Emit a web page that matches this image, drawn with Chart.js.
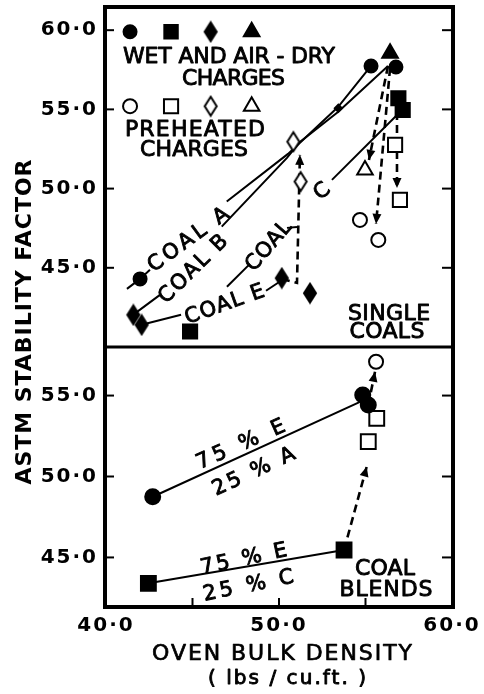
<!DOCTYPE html>
<html>
<head>
<meta charset="utf-8">
<title>ASTM stability factor vs oven bulk density</title>
<script src="https://cdn.jsdelivr.net/npm/chart.js@4.4.0/dist/chart.umd.min.js"></script>
<style>
  html, body { margin: 0; padding: 0; background: #fff; }
  #wrap { position: relative; width: 484px; height: 694px; }
</style>
</head>
<body>
<div id="wrap"><canvas id="chart"></canvas></div>
<script>
/* ASTM stability factor vs oven bulk density: single coals (top), coal blends (bottom) */

const FONT = '"DejaVu Sans"';

// ---- axis ticks ----
const xTickLabels = [40, 50, 60];
const xTickMarks = [45, 50, 55];
const yTicksTop = [45, 50, 55, 60];
const yTicksBot = [45, 50, 55];

// ---- key (top left of single coals panel) ----
const keyX = [41.39, 43.76, 46.05, 48.42];
const keyWetY = [59.9, 59.9, 59.9, 59.9];
const keyPreY = [55.2, 55.2, 55.2, 55.2];

// ---- single coals, wet and air-dry charges (filled) ----
const wetCircleX = [41.97, 55.32, 56.76];
const wetCircleY = [44.30, 57.74, 57.68];
const wetSquareX = [44.86, 56.90, 57.15];
const wetSquareY = [40.98, 55.70, 54.96];
const wetDiamondX = [41.58, 42.06, 50.16, 51.79];
const wetDiamondY = [42.03, 41.40, 44.35, 43.40];
const wetTriangleX = [56.42];
const wetTriangleY = [58.54];
const smallMarkX = [53.43];
const smallMarkY = [55.07];

// ---- single coals, preheated charges (open) ----
const preCircleX = [54.68, 55.74];
const preCircleY = [48.02, 46.76];
const preSquareX = [56.71, 56.99];
const preSquareY = [52.76, 49.29];
const preDiamondX = [50.83, 51.25];
const preDiamondY = [52.96, 50.44];
const preTriangleX = [54.97];
const preTriangleY = [51.18];

// ---- single coals, curves (null = break for a label) ----
const coalAX = [41.21, 41.97, 42.54, null, 46.98, 50.52, 53.41, 55.32];
const coalAY = [43.67, 44.30, 44.87, null, 49.18, 52.19, 55.15, 57.74];
const coalBX = [41.56, 43.12, null, 46.69, 50.46, 51.21, 53.41, 56.30];
const coalBY = [42.03, 43.29, null, 47.60, 51.94, 52.95, 54.84, 57.74];
const coalCX = [53.06, 57.11];
const coalCY = [50.55, 54.96];
const coalDX = [46.99, 48.32, null, 50.46, 51.04];
const coalDY = [43.80, 45.25, null, 47.52, 47.58];
const coalEX = [42.06, 44.34, null, 49.25, 50.12];
const coalEY = [41.40, 42.03, null, 43.55, 44.18];

// ---- single coals, wet -> preheated shifts (dashed, arrow at end) ----
const shift1X = [50.17, 51.04, 51.21];
const shift1Y = [44.30, 44.05, 52.13];
const shift2X = [56.30, 55.20];
const shift2Y = [57.74, 51.81];
const shift3X = [56.42, 55.61];
const shift3Y = [57.61, 47.77];
const shift4X = [56.82, 56.82];
const shift4Y = [54.84, 50.04];

// ---- coal blends ----
const blendCircleX = [42.70, 54.84, 55.16];
const blendCircleY = [48.75, 55.04, 54.42];
const blendSquareX = [42.45, 53.76];
const blendSquareY = [43.40, 45.46];
const blendOpenCircleX = [55.61];
const blendOpenCircleY = [57.09];
const blendOpenSquareX = [55.65, 55.16];
const blendOpenSquareY = [53.59, 52.15];
const blendEAX = [42.70, 54.78];
const blendEAY = [48.75, 54.66];
const blendECX = [42.45, 53.76];
const blendECY = [43.40, 45.46];
const blendShift1X = [53.76, 55.07];
const blendShift1Y = [45.46, 50.61];
const blendShift2X = [55.16, 55.55];
const blendShift2Y = [54.42, 56.47];

// ---- lettering in the panels (data coordinates) ----
const notes = [
  { text: "WET AND AIR - DRY", x: 47.11, y: 58.43, axis: "yTop", angle: 0, width: 212, size: 22 },
  { text: "CHARGES", x: 47.37, y: 57.05, axis: "yTop", angle: 0, width: 103, size: 22 },
  { text: "PREHEATED", x: 45.14, y: 53.83, axis: "yTop", angle: 0, width: 140, size: 22 },
  { text: "CHARGES", x: 45.09, y: 52.57, axis: "yTop", angle: 0, width: 108, size: 22 },
  { text: "SINGLE", x: 56.36, y: 42.22, axis: "yTop", angle: 0, width: 82, size: 22 },
  { text: "COALS", x: 56.24, y: 41.08, axis: "yTop", angle: 0, width: 75, size: 22 },
  { text: "COAL A", x: 44.71, y: 46.86, axis: "yTop", angle: -36, width: 95, size: 21 },
  { text: "COAL B", x: 44.97, y: 45.00, axis: "yTop", angle: -44.6, width: 88, size: 21 },
  { text: "COAL", x: 49.33, y: 46.45, axis: "yTop", angle: -49.5, width: 59, size: 21 },
  { text: "COAL E", x: 46.82, y: 42.79, axis: "yTop", angle: -19.7, width: 83, size: 21 },
  { text: "C", x: 52.43, y: 49.92, axis: "yTop", angle: -40, width: 0, size: 21 },
  { text: "75 % E", x: 47.75, y: 52.07, axis: "yBot", angle: -24, width: 95, size: 21 },
  { text: "25 % A", x: 48.50, y: 50.40, axis: "yBot", angle: -25, width: 89, size: 21 },
  { text: "75 % E", x: 47.94, y: 45.00, axis: "yBot", angle: -12, width: 88, size: 21 },
  { text: "25 % C", x: 48.21, y: 43.36, axis: "yBot", angle: -11.5, width: 92, size: 21 },
  { text: "COAL", x: 56.13, y: 44.41, axis: "yBot", angle: 0, width: 60, size: 22 },
  { text: "BLENDS", x: 56.18, y: 43.11, axis: "yBot", angle: 0, width: 93, size: 22 }
];

/* ---- helpers ---- */
const pts = (xs, ys) => xs.map((x, i) => ({ x, y: ys[i] }));
const fmtTick = v => v.toFixed(1).replace(".", "\u00b7");

function diamond(w, h, fill) {
  const c = document.createElement("canvas");
  c.width = w + 4; c.height = h + 4;
  const g = c.getContext("2d");
  g.beginPath();
  g.moveTo(c.width / 2, 2); g.lineTo(c.width - 2, c.height / 2);
  g.lineTo(c.width / 2, c.height - 2); g.lineTo(2, c.height / 2);
  g.closePath();
  g.fillStyle = fill; g.fill();
  g.lineWidth = 2; g.strokeStyle = "#000"; g.stroke();
  return c;
}
const diamondFilled = diamond(12, 19, "#000");
const diamondOpen = diamond(12, 19, "#fff");

function markers(xs, ys, yAxisID, style, radius, filled) {
  return {
    data: pts(xs, ys), yAxisID, showLine: false, order: 0,
    pointStyle: style, pointRadius: radius, pointHoverRadius: radius,
    pointBackgroundColor: filled ? "#000" : "#fff", pointBorderColor: "#000", pointBorderWidth: 2
  };
}

function curve(xs, ys, yAxisID, dashed) {
  return {
    data: pts(xs, ys), yAxisID, showLine: true, order: 1, spanGaps: false,
    pointRadius: 0, borderColor: "#000", borderWidth: dashed ? 2.6 : 2,
    borderDash: dashed ? [8, 5] : [], arrow: dashed
  };
}

// text stretched to a measured width; a thin stroke gives the heavier lettering-guide look
function spacedText(ctx, text, cx, cy, width, angle, font, size, heavy) {
  ctx.save();
  ctx.font = font;
  ctx.translate(cx, cy);
  ctx.rotate(angle * Math.PI / 180);
  ctx.letterSpacing = "0px";
  const w = ctx.measureText(text).width;
  const n = text.length;
  const target = n > 1 && width ? width : w;
  if (n > 1 && width) ctx.letterSpacing = ((width - w) / (n - 1)) + "px";
  ctx.textAlign = "left";
  ctx.textBaseline = "alphabetic";
  ctx.fillStyle = "#000";
  ctx.fillText(text, -target / 2, size * 0.365);
  if (heavy) {
    ctx.strokeStyle = "#000";
    ctx.lineWidth = heavy;
    ctx.lineJoin = "round";
    ctx.strokeText(text, -target / 2, size * 0.365);
  }
  ctx.restore();
}

/* ---- frame, inward ticks, arrowheads and lettering ---- */
const decorPlugin = {
  id: "decor",
  beforeDraw(chart) { chart.ctx.letterSpacing = "2px"; },
  afterDatasetsDraw(chart) {
    const { ctx, chartArea: a, scales } = chart;
    const seg = (x1, y1, x2, y2) => { ctx.beginPath(); ctx.moveTo(x1, y1); ctx.lineTo(x2, y2); ctx.stroke(); };
    ctx.save();
    ctx.letterSpacing = "0px";
    ctx.strokeStyle = "#000";
    ctx.fillStyle = "#000";

    // arrowheads on the dashed shifts
    chart.data.datasets.forEach((ds, i) => {
      if (!ds.arrow) return;
      const p = chart.getDatasetMeta(i).data.filter(e => !e.skip);
      const tip = p[p.length - 1], from = p[p.length - 2];
      const ang = Math.atan2(tip.y - from.y, tip.x - from.x);
      ctx.save();
      ctx.translate(tip.x, tip.y);
      ctx.rotate(ang);
      ctx.beginPath();
      ctx.moveTo(0, 0); ctx.lineTo(-10, -4.5); ctx.lineTo(-10, 4.5);
      ctx.closePath(); ctx.fill();
      ctx.restore();
    });

    // frame and panel divider
    ctx.lineWidth = 4;
    ctx.strokeRect(a.left - 1, a.top - 1, a.width + 2, a.height + 2);
    ctx.lineWidth = 3;
    seg(a.left, scales.yTop.bottom, a.right, scales.yTop.bottom);

    // inward tick marks
    ctx.lineWidth = 2;
    [[scales.yTop, yTicksTop], [scales.yBot, yTicksBot]].forEach(([s, vals]) => {
      vals.forEach(v => {
        const py = s.getPixelForValue(v);
        seg(a.left, py, a.left + 8, py);
        seg(a.right - 10, py, a.right, py);
      });
    });
    xTickMarks.forEach(v => {
      const px = scales.x.getPixelForValue(v);
      seg(px, a.bottom, px, a.bottom - 8);
    });

    // lettering inside the panels
    notes.forEach(n => {
      const cx = scales.x.getPixelForValue(n.x);
      const cy = scales[n.axis].getPixelForValue(n.y);
      spacedText(ctx, n.text, cx, cy, n.width, n.angle, `${n.size}px ${FONT}`, n.size, 0.9);
    });

    // axis titles
    const midX = (a.left + a.right) / 2;
    spacedText(ctx, "ASTM STABILITY FACTOR", 23, 322, 325, -90, `bold 22px ${FONT}`, 22, 0);
    spacedText(ctx, "OVEN BULK DENSITY", midX + 3, a.bottom + 46, 260, 0, `22px ${FONT}`, 22, 0.7);
    spacedText(ctx, "( lbs / cu.ft. )", midX + 8, a.bottom + 71, 158, 0, `20px ${FONT}`, 20, 0.9);
    ctx.restore();
  }
};

/* ---- chart ---- */
const tickFont = { family: FONT, size: 20, weight: "bold" };

function yScale(min, max, ticks, weight) {
  return {
    type: "linear", position: "left", stack: "panels", stackWeight: weight,
    min, max,
    afterBuildTicks: s => { s.ticks = ticks.map(v => ({ value: v })); },
    afterFit: s => { s.width = 106; s.paddingTop = 0; s.paddingBottom = 0; },
    ticks: { callback: fmtTick, font: tickFont, color: "#000", padding: 8, autoSkip: false },
    grid: { display: false, drawTicks: false },
    border: { display: false }
  };
}

new Chart(document.getElementById("chart"), {
  type: "line",
  data: {
    datasets: [
      // key
      markers(keyX, keyWetY, "yTop", ["circle", "rect", diamondFilled, "triangle"], [6.5, 9.5, 8, 9], true),
      markers(keyX, keyPreY, "yTop", ["circle", "rect", diamondOpen, "triangle"], [7, 10, 8, 9], false),
      // single coals
      markers(wetCircleX, wetCircleY, "yTop", "circle", 6.5, true),
      markers(wetSquareX, wetSquareY, "yTop", "rect", 10, true),
      markers(wetDiamondX, wetDiamondY, "yTop", diamondFilled, 8, true),
      markers(wetTriangleX, wetTriangleY, "yTop", "triangle", 9, true),
      markers(smallMarkX, smallMarkY, "yTop", "rectRot", 3.5, true),
      markers(preCircleX, preCircleY, "yTop", "circle", 7, false),
      markers(preSquareX, preSquareY, "yTop", "rect", 10, false),
      markers(preDiamondX, preDiamondY, "yTop", diamondOpen, 8, false),
      markers(preTriangleX, preTriangleY, "yTop", "triangle", 9, false),
      curve(coalAX, coalAY, "yTop", false),
      curve(coalBX, coalBY, "yTop", false),
      curve(coalCX, coalCY, "yTop", false),
      curve(coalDX, coalDY, "yTop", false),
      curve(coalEX, coalEY, "yTop", false),
      curve(shift1X, shift1Y, "yTop", true),
      curve(shift2X, shift2Y, "yTop", true),
      curve(shift3X, shift3Y, "yTop", true),
      curve(shift4X, shift4Y, "yTop", true),
      // coal blends
      markers(blendCircleX, blendCircleY, "yBot", "circle", 7.5, true),
      markers(blendSquareX, blendSquareY, "yBot", "rect", 10.5, true),
      markers(blendOpenCircleX, blendOpenCircleY, "yBot", "circle", 7, false),
      markers(blendOpenSquareX, blendOpenSquareY, "yBot", "rect", 10.5, false),
      curve(blendEAX, blendEAY, "yBot", false),
      curve(blendECX, blendECY, "yBot", false),
      curve(blendShift1X, blendShift1Y, "yBot", true),
      curve(blendShift2X, blendShift2Y, "yBot", true)
    ]
  },
  options: {
    responsive: true, maintainAspectRatio: false, animation: false,
    layout: { autoPadding: false, padding: { top: 8, right: 32, left: 0, bottom: 0 } },
    plugins: { legend: { display: false }, tooltip: { enabled: false } },
    scales: {
      x: {
        type: "linear", position: "bottom", min: 40, max: 60,
        afterBuildTicks: s => { s.ticks = xTickLabels.map(v => ({ value: v })); },
        afterFit: s => { s.height = 88; s.paddingLeft = 0; s.paddingRight = 0; },
        ticks: { callback: fmtTick, font: tickFont, color: "#000", padding: 8, maxRotation: 0, autoSkip: false },
        grid: { display: false, drawTicks: false },
        border: { display: false }
      },
      yBot: yScale(42, 58, yTicksBot, 259),
      yTop: yScale(40, 61.4, yTicksTop, 339)
    }
  },
  plugins: [decorPlugin]
});
</script>
</body>
</html>
